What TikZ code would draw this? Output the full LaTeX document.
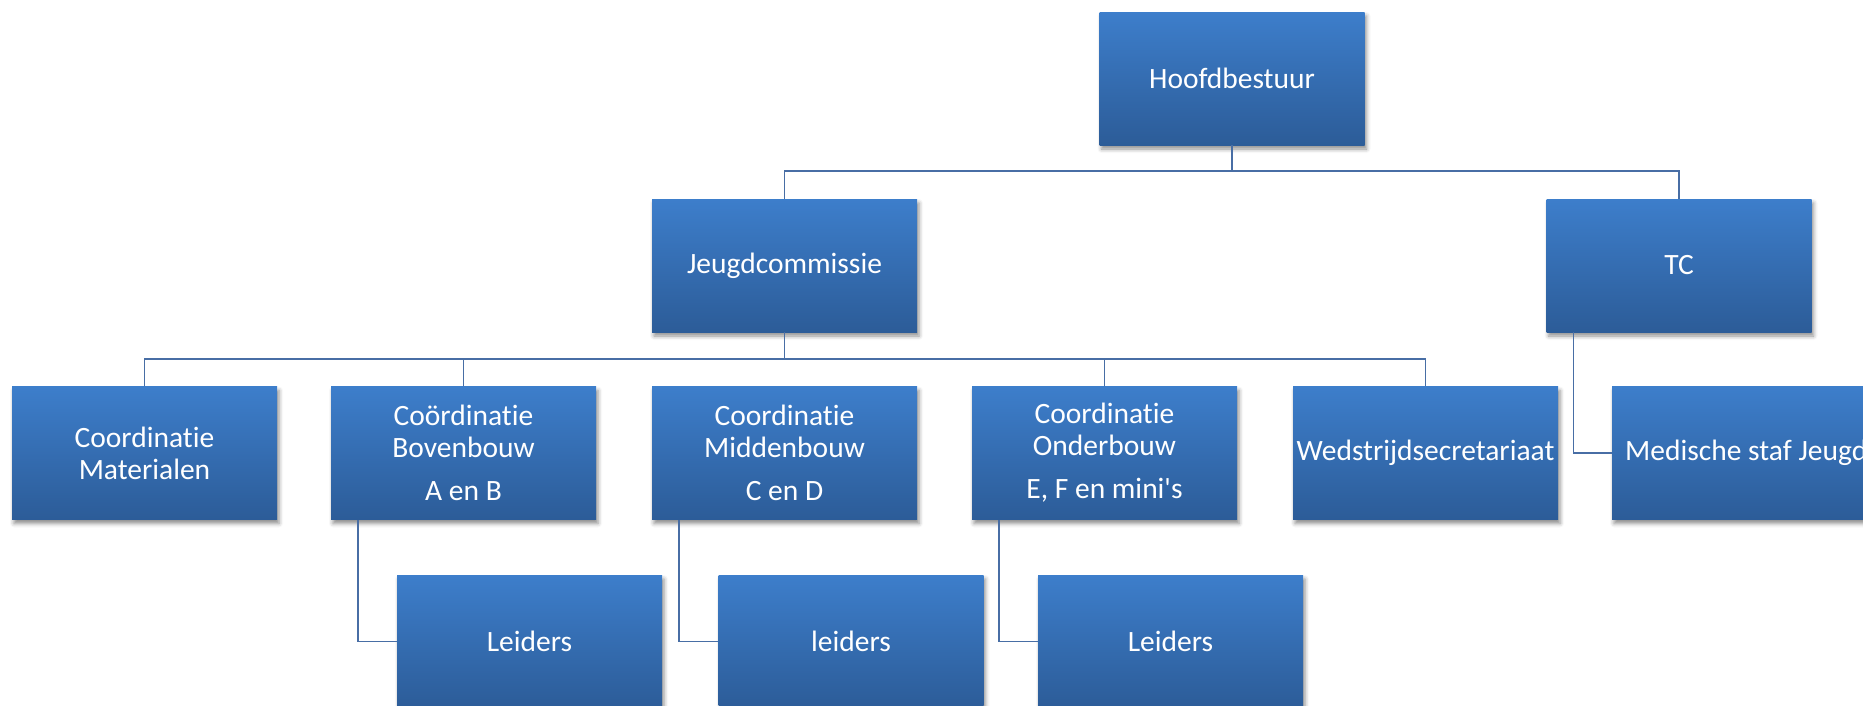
\documentclass[tikz,border=0pt]{standalone}
\usepackage{fontspec}
\setmainfont{Carlito}[RawFeature=-liga]
\usetikzlibrary{shadows.blur}
\definecolor{boxtop}{RGB}{61,126,203}
\definecolor{boxbot}{RGB}{44,92,152}
\definecolor{linec}{RGB}{72,110,165}
\tikzset{
  orgbox/.style={rectangle, minimum width=265pt, minimum height=133pt, inner sep=0pt,
    top color=boxtop, bottom color=boxbot, text=white, align=center,
    font=\fontsize{29.5}{32}\selectfont,
    blur shadow={shadow xshift=2pt, shadow yshift=-4pt, shadow blur radius=4pt, shadow opacity=45}},
  conn/.style={draw=linec, line width=1.6pt}
}
\begin{document}
\begin{tikzpicture}[x=1pt,y=-1pt]
\useasboundingbox (0,0) rectangle (1863,705);
\clip (0,0) rectangle (1863,705);
\node[orgbox] (hb) at (1232,78.5) {Hoofdbestuur};
\node[orgbox] (jc) at (784.5,265.5) {Jeugdcommissie};
\node[orgbox] (tc) at (1679,265.5) {TC};
\node[orgbox] (cm) at (144.5,453) {Coordinatie\\Materialen};
\node[orgbox] (cb) at (463.5,453) {Coördinatie\\Bovenbouw\\[11pt]A en B};
\node[orgbox] (cmid) at (784.5,453) {Coordinatie\\Middenbouw\\[11pt]C en D};
\node[orgbox] (co) at (1104.5,453) {Coordinatie\\Onderbouw\\[11pt]E, F en mini\textquotesingle s};
\node[orgbox] (ws) at (1425.5,453) {Wedstrijdsecretariaat};
\node[orgbox] (ms) at (1744.5,453) {};
\node[text=white, anchor=west, font=\fontsize{29.5}{32}\selectfont, inner sep=0pt] (mst) at (1625,453) {Medische staf Jeugd};
\node[orgbox] (l1) at (529.5,641.5) {Leiders};
\node[orgbox] (l2) at (851,641.5) {leiders};
\node[orgbox] (l3) at (1170.5,641.5) {Leiders};
\coordinate (b1) at (1232,171);
\coordinate (b2) at (784.5,359);
\draw[conn] (hb.south) -- (b1);
\draw[conn] (jc.north) |- (b1) -| (tc.north);
\draw[conn] (jc.south) -- (b2);
\draw[conn] (cm.north) |- (b2) -| (ws.north);
\draw[conn] (cb.north) -- (cb.north |- b2);
\draw[conn] (co.north) -- (co.north |- b2);
\draw[conn] ([xshift=27pt]cb.south west) |- (l1.west);
\draw[conn] ([xshift=27pt]cmid.south west) |- (l2.west);
\draw[conn] ([xshift=27pt]co.south west) |- (l3.west);
\draw[conn] ([xshift=27pt]tc.south west) |- (ms.west);
\end{tikzpicture}
\end{document}
